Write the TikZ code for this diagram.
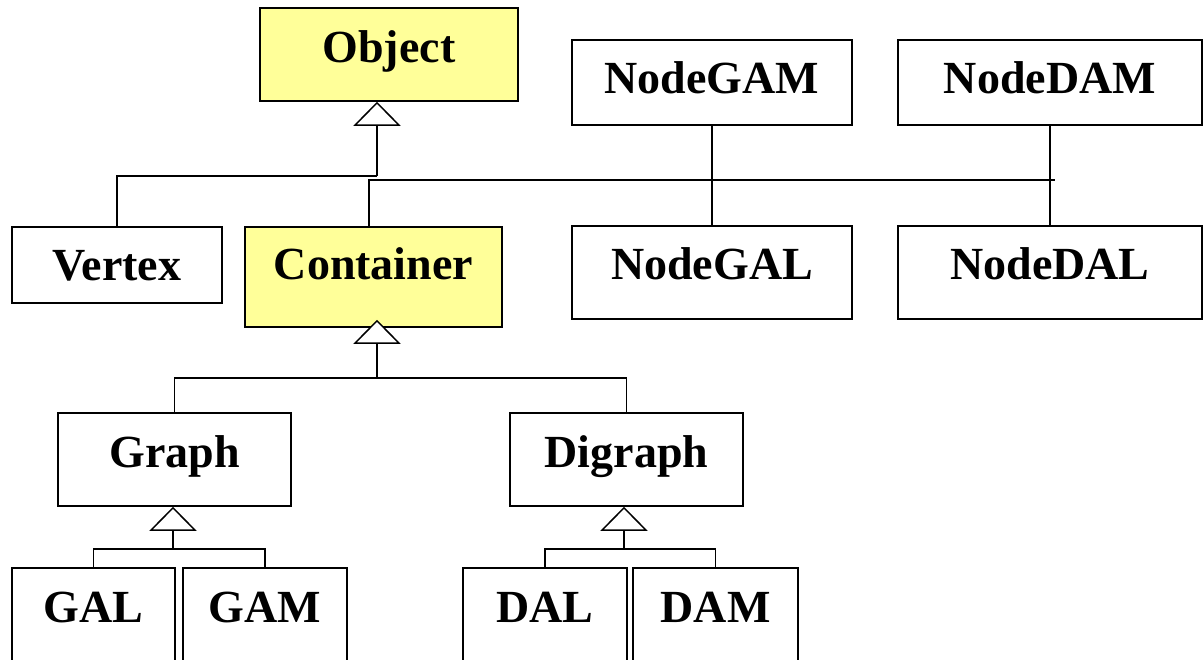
\documentclass[tikz,border=0pt]{standalone}
\usepackage{fontspec}
\setmainfont{Liberation Serif}
\usetikzlibrary{arrows.meta}
\definecolor{classyellow}{HTML}{FFFF99}
\begin{document}
\begin{tikzpicture}[x=1pt,y=-1pt,
  cls/.style={draw=black, line width=1.5pt, rectangle, inner sep=0pt, fill=white,
    font=\fontsize{46}{50}\selectfont\bfseries, text height=31pt, align=center},
  abstractcls/.style={cls, fill=classyellow},
  link/.style={draw=black, line width=1.5pt},
  inherits/.style={link, -{Triangle[fill=white, length=24pt, width=47pt]}},
]
\useasboundingbox (0,0) rectangle (1204,659);
\clip (0,0) rectangle (1204,659);

% class boxes
\node[abstractcls, minimum width=258pt, minimum height=93pt, text depth=16pt] (object) at (389,54.5) {Object};
\node[cls, minimum width=210pt, minimum height=76pt, text depth=0pt] (vertex) at (117,265) {Vertex};
\node[abstractcls, minimum width=257pt, minimum height=100pt, text depth=26pt] (container) at (373.5,277) {Container};
\node[cls, minimum width=280pt, minimum height=85pt, text depth=10pt] (nodegam) at (712,82.5) {NodeGAM};
\node[cls, minimum width=304pt, minimum height=85pt, text depth=10pt] (nodedam) at (1050,82.5) {NodeDAM};
\node[cls, minimum width=280pt, minimum height=93pt, text depth=17pt] (nodegal) at (712,272.5) {NodeGAL};
\node[cls, minimum width=304pt, minimum height=93pt, text depth=17pt] (nodedal) at (1050,272.5) {NodeDAL};
\node[cls, minimum width=233pt, minimum height=93pt, text depth=15pt] (graph) at (174.5,459.5) {Graph};
\node[cls, minimum width=233pt, minimum height=93pt, text depth=15pt] (digraph) at (626.5,459.5) {Digraph};
\node[cls, minimum width=163pt, minimum height=102pt, text depth=25pt] (gal) at (93.5,619) {GAL};
\node[cls, minimum width=164pt, minimum height=102pt, text depth=25pt] (gam) at (265,619) {GAM};
\node[cls, minimum width=164pt, minimum height=102pt, text depth=25pt] (dal) at (545,619) {DAL};
\node[cls, minimum width=165pt, minimum height=102pt, text depth=25pt] (dam) at (715.5,619) {DAM};

% junction points
\coordinate (objJ) at (377,176);
\coordinate (busE) at (1055,180);
\coordinate (conJ) at (377,378);
\coordinate (graJ) at (173,549);
\coordinate (digJ) at (624,549);

% Vertex inherits from Object
\draw[link] (vertex.north) |- (objJ);
\draw[inherits] (objJ) -- (objJ |- object.south);

% Container bus line
\draw[link] ([xshift=-4.5pt]container.north) |- (busE);

% node classes
\draw[link] (nodegam.south) -- (nodegal.north);
\draw[link] (nodedam.south) -- (nodedal.north);

% Graph and Digraph inherit from Container
\path (conJ |- container.south) ++(0,-8) coordinate (conTip);
\draw[link] (graph.north) |- (conJ) -| (digraph.north);
\draw[inherits] (conJ) -- (conTip);

% implementations of Graph
\draw[link] (gal.north) |- (graJ) -| (gam.north);
\draw[inherits] (graJ) -- (graJ |- graph.south);

% implementations of Digraph
\draw[link] (dal.north) |- (digJ) -| (dam.north);
\draw[inherits] (digJ) -- (digJ |- digraph.south);
\end{tikzpicture}
\end{document}
